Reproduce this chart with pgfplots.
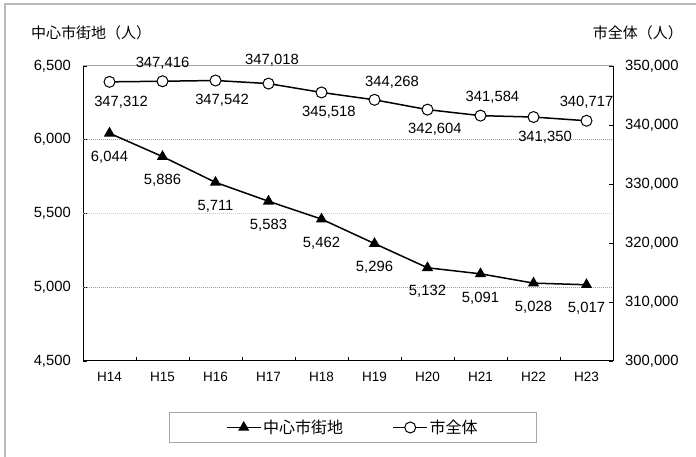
\documentclass[border=0pt]{standalone}
\usepackage{fontspec}
\setmainfont{Liberation Sans}
\newfontfamily\jp{Noto Sans CJK JP}
\usepackage{pgfplots}
\pgfplotsset{compat=1.18}
\usepackage{pgfplotstable}

\pgfplotstableread{
x y
0 6044
1 5886
2 5711
3 5583
4 5462
5 5296
6 5132
7 5091
8 5028
9 5017
}\center

\pgfplotstableread{
x y
0 347312
1 347416
2 347542
3 347018
4 345518
5 344268
6 342604
7 341584
8 341350
9 340717
}\whole

\pgfplotstableread{
x y l
0 6044 6,044
1 5886 5,886
2 5711 5,711
3 5583 5,583
4 5462 5,462
5 5296 5,296
6 5132 5,132
7 5091 5,091
8 5028 5,028
9 5017 5,017
}\centerlab

\pgfplotstableread{
x y l
0.217 347312 347,312
2.123 347542 347,542
4.14 345518 345,518
6.14 342604 342,604
8.217 341350 341,350
}\wholebelow

\pgfplotstableread{
x y l
1.0 347416 347,416
3.066 348000 347,018
5.33 344268 344,268
7.226 341584 341,584
9.0 340717 340,717
}\wholeabove

\begin{document}
\begin{tikzpicture}
\useasboundingbox (0bp,0bp) rectangle (696bp,457bp);
\draw[gray!55, line width=1.2bp] (5bp,0bp) -- (5bp,453bp) -- (696bp,453bp);
\node[anchor=west, inner sep=0pt, font=\jp\fontsize{15bp}{18bp}\selectfont] at (31bp,424bp) {中心市街地（人）};
\node[anchor=east, inner sep=0pt, font=\jp\fontsize{15bp}{18bp}\selectfont] at (683bp,424bp) {市全体（人）};

\begin{axis}[
  at={(83bp,96bp)}, anchor=south west,
  width=530bp, height=295bp, scale only axis,
  xmin=-0.5, xmax=9.5, ymin=4500, ymax=6500,
  axis x line*=bottom, axis y line*=left,
  axis line style={black, line width=1bp},
  tick align=inside,
  xtick={0,...,9},
  xticklabels={H14,H15,H16,H17,H18,H19,H20,H21,H22,H23},
  major x tick style={draw=none},
  minor xtick={-0.5,0.5,...,9.5},
  minor tick length=4bp,
  minor x tick style={black, line width=0.6bp},
  ytick={4500,5000,...,6500},
  major tick length=4bp,
  ytick style={black, line width=0.6bp},
  scaled y ticks=false,
  yticklabel style={/pgf/number format/fixed, /pgf/number format/1000 sep={,}, /pgf/number format/assume math mode=true, font=\fontsize{14.8bp}{17bp}\selectfont, inner sep=0pt, anchor=east, xshift=-12bp},
  xticklabel style={font=\fontsize{13.5bp}{15bp}\selectfont, inner sep=0pt, anchor=north, yshift=-11bp},
  clip=false,
]
\draw[gray!80, line width=0.8bp, dash pattern=on 1bp off 1bp] (axis cs:-0.5,6000) -- (axis cs:9.5,6000);
\draw[gray!80, line width=0.8bp, dash pattern=on 1bp off 1bp] (axis cs:-0.5,5000) -- (axis cs:9.5,5000);
\draw[gray!40, line width=0.6bp, dash pattern=on 1bp off 1bp] (axis cs:-0.5,5500) -- (axis cs:9.5,5500);
\draw[gray!70, line width=1bp] (rel axis cs:0,1) -- (rel axis cs:1,1);
\addplot[black, line width=1.5bp, mark=triangle*, mark size=5bp] table[x=x,y=y] {\center};
\addplot[draw=none, mark=none, forget plot, nodes near coords, point meta=explicit symbolic,
  nodes near coords style={font=\fontsize{14.8bp}{17bp}\selectfont, anchor=center, yshift=-24bp, inner sep=0pt}]
  table[x=x,y=y,meta=l] {\centerlab};
\end{axis}

\begin{axis}[
  at={(83bp,96bp)}, anchor=south west,
  width=530bp, height=295bp, scale only axis,
  xmin=-0.5, xmax=9.5, ymin=300000, ymax=350000,
  axis x line=none, axis y line*=right,
  axis line style={black, line width=1bp},
  tick align=inside,
  ytick={300000,310000,...,350000},
  major tick length=4bp,
  ytick style={black, line width=0.6bp},
  scaled y ticks=false,
  yticklabel style={/pgf/number format/fixed, /pgf/number format/1000 sep={,}, /pgf/number format/assume math mode=true, font=\fontsize{14.8bp}{17bp}\selectfont, inner sep=0pt, anchor=west, xshift=12bp},
  clip=false,
  legend columns=2,
  legend style={at={(0.5085,-0.2254)}, anchor=center, draw=gray!70, line width=0.8bp,
    inner xsep=57bp, inner ysep=6bp,
    font=\jp\fontsize{16bp}{19bp}\selectfont,
    nodes={inner sep=1.5bp},
    /tikz/every even column/.append style={column sep=48bp}},
  legend image code/.code={\draw[mark repeat=2,mark phase=2,#1] plot coordinates {(0bp,0bp) (17bp,0bp) (34bp,0bp)};},
]
\addlegendimage{black, line width=1.5bp, mark=triangle*, mark size=5bp}
\addlegendentry{中心市街地}
\addplot[black, line width=1.5bp, mark=*, mark size=5.5bp, mark options={fill=white, line width=1bp}] table[x=x,y=y] {\whole};
\addlegendentry{市全体}
\addplot[draw=none, mark=none, forget plot, nodes near coords, point meta=explicit symbolic,
  nodes near coords style={font=\fontsize{14.8bp}{17bp}\selectfont, anchor=center, yshift=-20bp, inner sep=0pt}]
  table[x=x,y=y,meta=l] {\wholebelow};
\addplot[draw=none, mark=none, forget plot, nodes near coords, point meta=explicit symbolic,
  nodes near coords style={font=\fontsize{14.8bp}{17bp}\selectfont, anchor=center, yshift=18bp, inner sep=0pt}]
  table[x=x,y=y,meta=l] {\wholeabove};
\end{axis}
\end{tikzpicture}
\end{document}
